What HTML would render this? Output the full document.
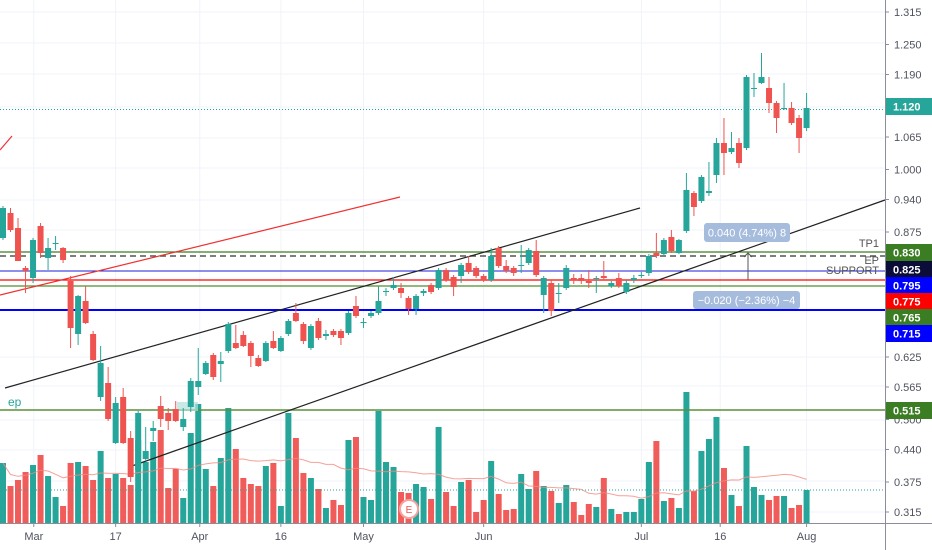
<!DOCTYPE html>
<html><head><meta charset="utf-8">
<style>
html,body{margin:0;padding:0;background:#fff;}
svg{display:block;font-family:"Liberation Sans",sans-serif;}
</style></head>
<body>
<svg id="chart" width="932" height="550" viewBox="0 0 932 550" xmlns="http://www.w3.org/2000/svg">
<rect x="0" y="0" width="932" height="550" fill="#ffffff"/>
<g id="grid"></g>
<g id="vol"></g>
<g id="draw"></g>
<g id="candles"></g>
<g id="axis"></g>
</svg>
<script>
const open_=[0.863,0.913,0.883,0.803,0.783,0.887,0.823,0.851,0.843,0.777,0.671,0.737,0.671,0.545,0.573,0.453,0.545,0.463,0.399,0.421,0.477,0.527,0.513,0.521,0.485,0.525,0.565,0.591,0.629,0.611,0.637,0.653,0.669,0.653,0.623,0.617,0.657,0.637,0.671,0.713,0.691,0.643,0.697,0.667,0.677,0.677,0.673,0.727,0.693,0.707,0.713,0.755,0.763,0.763,0.743,0.721,0.753,0.769,0.763,0.799,0.785,0.787,0.813,0.803,0.787,0.779,0.843,0.807,0.803,0.807,0.813,0.837,0.749,0.773,0.751,0.763,0.783,0.783,0.777,0.781,0.787,0.767,0.783,0.755,0.779,0.787,0.793,0.833,0.831,0.865,0.833,0.877,0.953,0.937,0.953,0.989,1.053,1.035,1.053,1.043,1.161,1.173,1.163,1.133,1.121,1.123,1.103,1.083];
const high_=[0.927,0.923,0.903,0.807,0.863,0.893,0.863,0.867,0.845,0.787,0.749,0.767,0.677,0.647,0.605,0.545,0.563,0.477,0.517,0.485,0.497,0.547,0.523,0.537,0.523,0.583,0.643,0.617,0.633,0.635,0.695,0.689,0.677,0.657,0.629,0.657,0.677,0.667,0.701,0.733,0.695,0.691,0.703,0.679,0.681,0.681,0.717,0.747,0.703,0.717,0.767,0.763,0.785,0.773,0.747,0.751,0.761,0.773,0.803,0.803,0.789,0.813,0.827,0.807,0.791,0.843,0.847,0.819,0.807,0.849,0.843,0.859,0.787,0.779,0.773,0.809,0.791,0.791,0.799,0.787,0.817,0.777,0.793,0.779,0.789,0.795,0.831,0.873,0.863,0.879,0.861,0.993,0.957,0.989,1.015,1.063,1.103,1.075,1.063,1.189,1.193,1.233,1.185,1.137,1.173,1.135,1.109,1.153];
const low_=[0.859,0.875,0.817,0.753,0.773,0.823,0.799,0.839,0.813,0.643,0.649,0.691,0.617,0.537,0.497,0.451,0.451,0.375,0.395,0.417,0.457,0.485,0.479,0.495,0.477,0.515,0.549,0.589,0.579,0.575,0.633,0.641,0.645,0.605,0.605,0.615,0.641,0.635,0.667,0.695,0.651,0.639,0.659,0.659,0.665,0.649,0.669,0.703,0.683,0.703,0.709,0.747,0.759,0.743,0.709,0.709,0.747,0.751,0.759,0.775,0.747,0.773,0.791,0.783,0.775,0.775,0.803,0.793,0.787,0.793,0.809,0.785,0.713,0.707,0.733,0.759,0.771,0.771,0.763,0.753,0.779,0.763,0.763,0.751,0.773,0.783,0.787,0.823,0.827,0.833,0.831,0.873,0.907,0.933,0.947,0.973,0.989,1.031,1.003,1.039,1.145,1.171,1.113,1.073,1.119,1.089,1.033,1.077];
const close_=[0.923,0.879,0.817,0.797,0.859,0.833,0.843,0.853,0.819,0.683,0.747,0.693,0.619,0.613,0.501,0.533,0.453,0.385,0.513,0.437,0.483,0.501,0.497,0.497,0.501,0.577,0.577,0.613,0.585,0.617,0.691,0.643,0.647,0.627,0.607,0.653,0.643,0.663,0.697,0.697,0.657,0.687,0.663,0.671,0.669,0.663,0.713,0.707,0.695,0.713,0.737,0.757,0.769,0.753,0.721,0.747,0.757,0.755,0.799,0.779,0.765,0.809,0.795,0.787,0.779,0.827,0.807,0.797,0.793,0.809,0.839,0.789,0.783,0.717,0.753,0.803,0.779,0.777,0.773,0.783,0.783,0.773,0.767,0.773,0.783,0.789,0.827,0.827,0.859,0.837,0.859,0.959,0.925,0.985,0.957,1.053,1.033,1.043,1.013,1.185,1.163,1.185,1.133,1.103,1.123,1.093,1.063,1.123];
const volume_=[600,370,430,510,580,680,470,260,170,600,610,570,430,720,450,490,450,380,830,610,810,930,350,540,250,900,1190,540,370,650,1150,740,450,390,370,570,600,170,1100,850,500,450,340,150,230,180,830,860,260,230,1120,610,560,310,300,390,360,240,960,310,170,410,430,110,230,620,290,130,140,490,340,520,370,320,200,380,210,80,190,160,450,140,90,110,110,240,610,820,220,250,150,1310,320,720,840,1060,550,280,170,770,360,280,230,270,270,150,180,330];
const priceTicks=["1.315","1.250","1.190","1.120","1.065","1.000","0.940","0.875","0.830","0.825","0.625","0.565","0.500","0.440","0.375","0.315"];
const priceTickVals=[1.315,1.250,1.190,1.120,1.065,1.000,0.940,0.875,0.830,0.825,0.625,0.565,0.500,0.440,0.375,0.315];
const timeLabels=["Mar","17","Apr","16","May","Jun","Jul","16","Aug"];
const timeIdx=[4.1,15,26.2,37,48,64,85,95.5,107];
const levelVals=[0.830,0.825,0.795,0.775,0.765,0.715,0.515];

const NS="http://www.w3.org/2000/svg";
function P(p){return 12+(1.315-p)*500;}
function X(i){return 3+i*7.51;}
function V(v){return 523-v/10;}
function mk(tag,attrs,parent,name){const e=document.createElementNS(NS,tag);for(const k in attrs)e.setAttribute(k,attrs[k]);parent.appendChild(e);return e;}
const G=document.getElementById('grid'),VG=document.getElementById('vol'),D=document.getElementById('draw'),C=document.getElementById('candles'),A=document.getElementById('axis');
const GREEN="#26a69a",RED="#ef5350";
// grid
const gridYs=[12,43,74,107,138,168,200,230,357,386,420,450,481,512];
gridYs.forEach(y=>{const l=mk('line',{x1:0,x2:885,y1:y,y2:y,stroke:'#f0f3fa','stroke-width':1},G,'grid-line-h');});
timeIdx.forEach(i=>{const l=mk('line',{x1:X(i),x2:X(i),y1:0,y2:523,stroke:'#f0f3fa','stroke-width':1},G,'grid-line-v');});
// volume
volume_.forEach((v,i)=>{const up=close_[i]>=open_[i];const r=mk('rect',{x:X(i)-3,y:V(v),width:6,height:523-V(v),fill:up?GREEN:RED,'fill-opacity':up?1:0.95},VG,'volume-bar');});
// volume MA
let pts=[];for(let i=0;i<volume_.length;i++){const s=volume_.slice(Math.max(0,i-19),i+1);const m=s.reduce((a,b)=>a+b,0)/s.length;pts.push(X(i).toFixed(1)+','+V(m).toFixed(1));}
mk('polyline',{points:pts.join(' '),fill:'none',stroke:'#f48a7e','stroke-width':1,'stroke-opacity':0.8},VG,'volume-ma-line');
mk('line',{x1:0,x2:885,y1:V(volume_[volume_.length-1]),y2:V(volume_[volume_.length-1]),stroke:GREEN,'stroke-width':1,'stroke-dasharray':'1,2'},VG,'volume-last-line');
// drawings
mk('line',{x1:0,x2:885,y1:252,y2:252,stroke:'#3a7d22','stroke-width':1.3},D,'tp1-line');
mk('line',{x1:0,x2:885,y1:256,y2:256,stroke:'#555','stroke-width':1.5,'stroke-dasharray':'6,4'},D,'ep-line');
mk('line',{x1:0,x2:885,y1:271,y2:271,stroke:'#1c1cd8','stroke-width':1},D,'support-line');
mk('line',{x1:0,x2:885,y1:280,y2:280,stroke:'#ff0000','stroke-width':1.3},D,'red-level-line');
mk('line',{x1:0,x2:885,y1:286,y2:286,stroke:'#4f8f2f','stroke-width':1.3},D,'green-level-line');
mk('line',{x1:0,x2:885,y1:310,y2:310,stroke:'#0000ff','stroke-width':2},D,'blue-level-line');
mk('line',{x1:0,x2:885,y1:410,y2:410,stroke:'#5a8f3a','stroke-width':1.5},D,'ep-low-line');
mk('line',{x1:0,x2:885,y1:P(1.120),y2:P(1.120),stroke:GREEN,'stroke-width':1,'stroke-dasharray':'1,2'},D,'last-price-line');
mk('line',{x1:5,y1:388,x2:640,y2:208,stroke:'#222','stroke-width':1.2},D,'trend-line-upper');
mk('line',{x1:132,y1:466,x2:885,y2:200,stroke:'#222','stroke-width':1.2},D,'trend-line-lower');
mk('line',{x1:0,y1:295,x2:400,y2:197,stroke:'#f03030','stroke-width':1.2},D,'red-trend-line');
mk('line',{x1:0,y1:150,x2:12,y2:136,stroke:'#f03030','stroke-width':1.2},D,'red-trend-line-2');
mk('rect',{x:177,y:402,width:21,height:9,fill:'#b2dfdb','fill-opacity':0.7},D,'entry-zone');
const ep=mk('text',{x:8,y:406,fill:GREEN,'font-size':12},D,'ep-label');ep.textContent='ep';
mk('line',{x1:748,y1:253,x2:748,y2:280,stroke:'#555','stroke-width':1},D,'measure-line');
mk('path',{d:'M744,257 L748,253 L752,257',fill:'none',stroke:'#555','stroke-width':1},D,'measure-arrow');
mk('rect',{x:704,y:223,width:86,height:19,rx:3,fill:'#a6bcdd'},D,'measure-box-up');
let t=mk('text',{x:747,y:236.5,fill:'#fff','font-size':11,'text-anchor':'middle'},D,'measure-up-text');t.textContent='0.040 (4.74%) 8';
mk('rect',{x:693,y:291,width:107,height:18,rx:3,fill:'#a6bcdd'},D,'measure-box-down');
t=mk('text',{x:746.5,y:304,fill:'#fff','font-size':11,'text-anchor':'middle'},D,'measure-down-text');t.textContent='\u22120.020 (\u22122.36%) \u22124';
t=mk('text',{x:879,y:247,fill:'#555','font-size':11,'text-anchor':'end'},D,'tp1-text');t.textContent='TP1';
t=mk('text',{x:879,y:264,fill:'#555','font-size':11,'text-anchor':'end'},D,'ep-text');t.textContent='EP';
t=mk('text',{x:879,y:274,fill:'#555','font-size':11,'text-anchor':'end'},D,'support-text');t.textContent='SUPPORT';
// candles
for(let i=0;i<open_.length;i++){const up=close_[i]>=open_[i];const col=up?GREEN:RED;const x=X(i);
 mk('line',{x1:x,x2:x,y1:P(high_[i]),y2:P(low_[i]),stroke:col,'stroke-width':1},C,'candle-wick');
 const top=P(Math.max(open_[i],close_[i])),bot=P(Math.min(open_[i],close_[i]));
 mk('rect',{x:x-3,y:top,width:6,height:Math.max(1,bot-top),fill:col},C,'candle-body');}
// earnings
mk('circle',{cx:409,cy:509,r:9,fill:'#fff',stroke:'#f4a4a0','stroke-width':2},C,'earnings-marker');
t=mk('text',{x:409,y:513,fill:'#ef5350','font-size':10,'text-anchor':'middle'},C,'earnings-text');t.textContent='E';
// axes
mk('rect',{x:885,y:0,width:47,height:550,fill:'#fff'},A,'price-axis-bg');
mk('line',{x1:885.5,x2:885.5,y1:0,y2:550,stroke:'#8a8e9a','stroke-width':1},A,'price-axis-line');
mk('line',{x1:0,x2:932,y1:523.5,y2:523.5,stroke:'#8a8e9a','stroke-width':1},A,'time-axis-line');
priceTicks.forEach((s,k)=>{if(s==='0.830'||s==='0.825')return;const y=P(priceTickVals[k]);mk('line',{x1:885,x2:889,y1:y,y2:y,stroke:'#8a8e9a'},A,'price-tick');const tx=mk('text',{x:894,y:y+4,fill:'#50535e','font-size':11},A,'price-tick-label');tx.textContent=s;});
timeLabels.forEach((s,k)=>{const x=X(timeIdx[k]);mk('line',{x1:x,x2:x,y1:523,y2:527,stroke:'#8a8e9a'},A,'time-tick');const tx=mk('text',{x:x,y:540,fill:'#50535e','font-size':11,'text-anchor':'middle'},A,'time-tick-label');tx.textContent=s;});
const badges=[["1.120",98,GREEN],["0.830",244,"#3a7d22"],["0.825",261,"#0c0c38"],["0.795",277,"#0000ff"],["0.775",293,"#ff0000"],["0.765",309,"#3a7d22"],["0.715",325,"#0000ff"],["0.515",402,"#3a7d22"]];
badges.forEach(b=>{mk('rect',{x:886,y:b[1],width:46,height:17,fill:b[2]},A,'price-badge');const tx=mk('text',{x:893,y:b[1]+12.5,fill:'#fff','font-size':11,'font-weight':'bold'},A,'price-badge-label');tx.textContent=b[0];});
</script>
</body></html>
